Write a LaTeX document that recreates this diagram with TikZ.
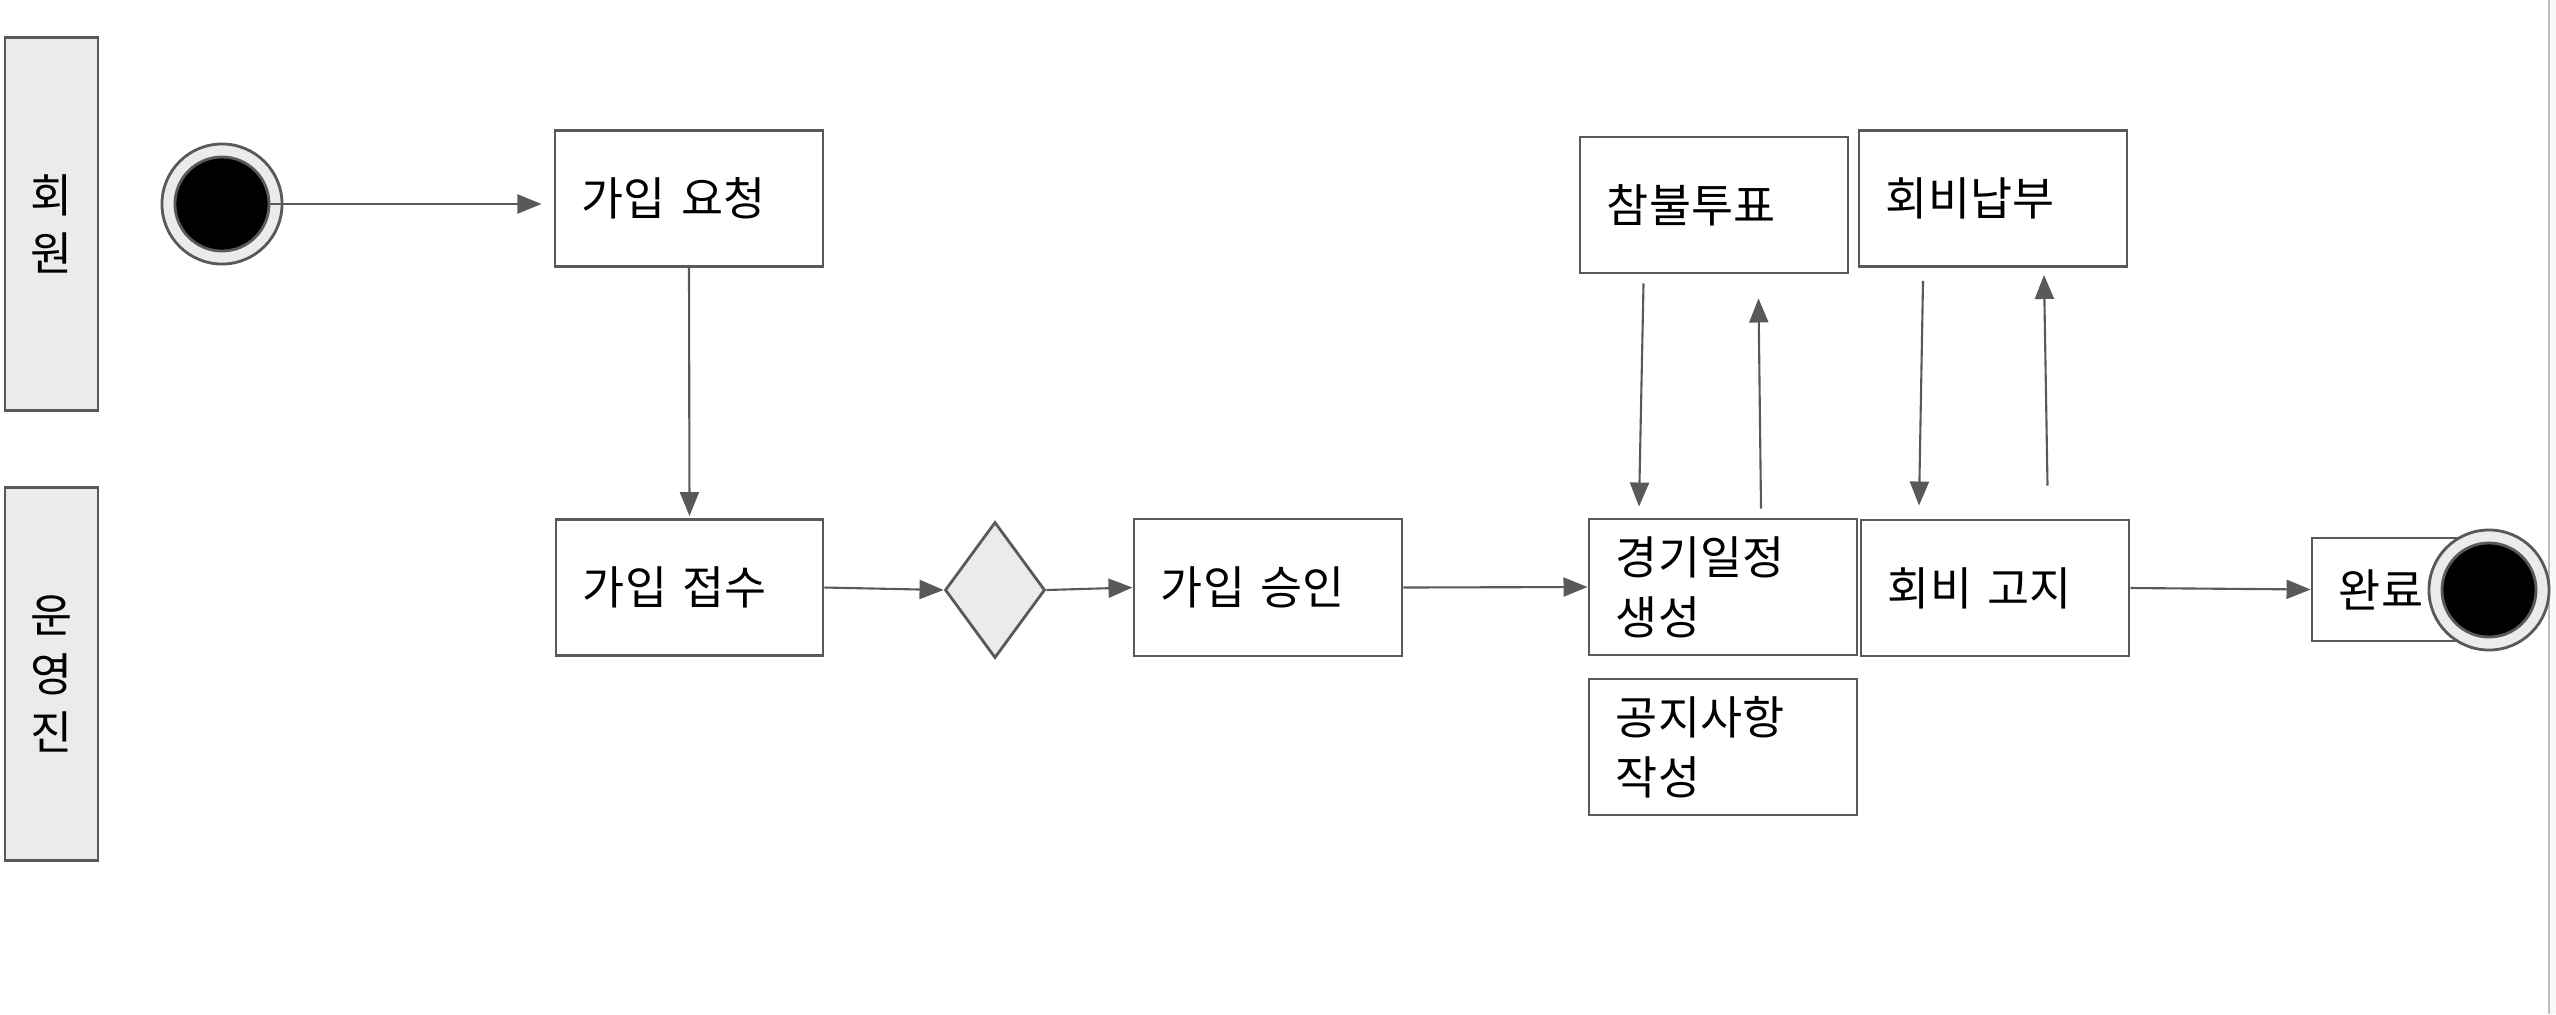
\documentclass[tikz,border=0pt]{standalone}
\usepackage{fontspec}
\usepackage{tikz}
\usetikzlibrary{arrows.meta,positioning,shapes.geometric}
\setmainfont{Noto Sans CJK KR}
\definecolor{ActLine}{HTML}{595959}
\definecolor{ActFill}{HTML}{EBEBEB}
\definecolor{ActEdge}{HTML}{BDBDBD}
\definecolor{ActPane}{HTML}{F8F9FD}
\tikzset{
  lane/.style={draw=ActLine,line width=0.8pt,fill=ActFill,align=center,
    minimum width=0.93cm,minimum height=3.72cm,
    font=\fontsize{13}{16.6}\selectfont},
  action/.style={draw=ActLine,line width=0.8pt,fill=white,align=left,
    inner xsep=0pt,inner ysep=0pt,minimum height=1.36cm,
    font=\fontsize{13}{17}\selectfont},
  decision/.style={diamond,draw=ActLine,line width=0.8pt,fill=ActFill,
    inner sep=0pt,minimum width=1.0cm,minimum height=1.36cm},
  ring/.style={circle,draw=ActLine,line width=0.8pt,fill=ActFill,
    inner sep=0pt,minimum size=1.2cm},
  dot/.style={circle,draw=ActLine,line width=0.8pt,fill=black,
    inner sep=0pt,minimum size=0.94cm},
  flow/.style={-{Triangle[length=2.4mm,width=1.9mm]},line width=0.6pt,draw=ActLine}
}
% box of given width, text starting about 0.27cm from the left side
\newcommand{\actbox}[5][]{%
  \node[action,#1,minimum width=#3cm,text width=#3cm-0.54cm,inner xsep=0.27cm] (#2) at (#4) {#5};}

\begin{document}
\begin{tikzpicture}[x=0.01cm,y=-0.01cm]
  \useasboundingbox (0,0) rectangle (2556,1014);
  \fill[ActPane] (2550,0) rectangle (2556,1014);
  \draw[ActEdge,line width=0.6pt] (2549,0) -- (2549,1014);

  % swimlanes
  \node[lane] (member) at (51.5,224) {회\\원};
  \node[lane] (staff) at (51.5,674) {운\\영\\진};

  % start
  \node[ring] (startring) at (222,204) {};
  \node[dot] (start) at (222,204) {};

  \actbox{req}{2.68}{689,198.5}{가입 요청}
  \actbox{recv}{2.67}{689.5,587.5}{가입 접수}
  \node[decision] (check) at (995,590) {};
  \actbox[minimum height=1.37cm]{appr}{2.68}{1268,587.5}{가입 승인}
  \actbox{game}{2.68}{1723,587}{경기일정\\생성}
  \actbox{fee}{2.68}{1995,588}{회비 고지}
  \actbox{notice}{2.68}{1723,747}{공지사항\\작성}
  \actbox{vote}{2.68}{1714,205}{참불투표}
  \actbox{pay}{2.68}{1993,198.5}{회비납부}
  \actbox[minimum height=1.03cm]{done}{1.48}{2386,589.5}{완료}

  % end
  \node[ring] (endring) at (2489,590) {};
  \node[dot] (stop) at (2489,590) {};

  \draw[flow,shorten >=1.2mm] (start.east) -- (start.east -| req.west);
  \draw[flow,shorten >=0.2mm] (req.south) -- (recv.north);
  \draw[flow] (recv.east) -- (check.west);
  \draw[flow] (check.east) -- (appr.west);
  \draw[flow] (appr.east) -- (game.west);
  \draw[flow] ([shift={(65,9)}]vote.south west) -- ([shift={(51.5,-11)}]game.north west);
  \draw[flow] ([shift={(173.5,-9)}]game.north west) -- ([shift={(180,24)}]vote.south west);
  \draw[flow] ([shift={(65.5,13)}]pay.south west) -- ([shift={(59.5,-13)}]fee.north west);
  \draw[flow] ([shift={(188,-33)}]fee.north west) -- ([shift={(186.5,7)}]pay.south west);
  \draw[flow] (fee.east) -- (done.west);
\end{tikzpicture}
\end{document}
